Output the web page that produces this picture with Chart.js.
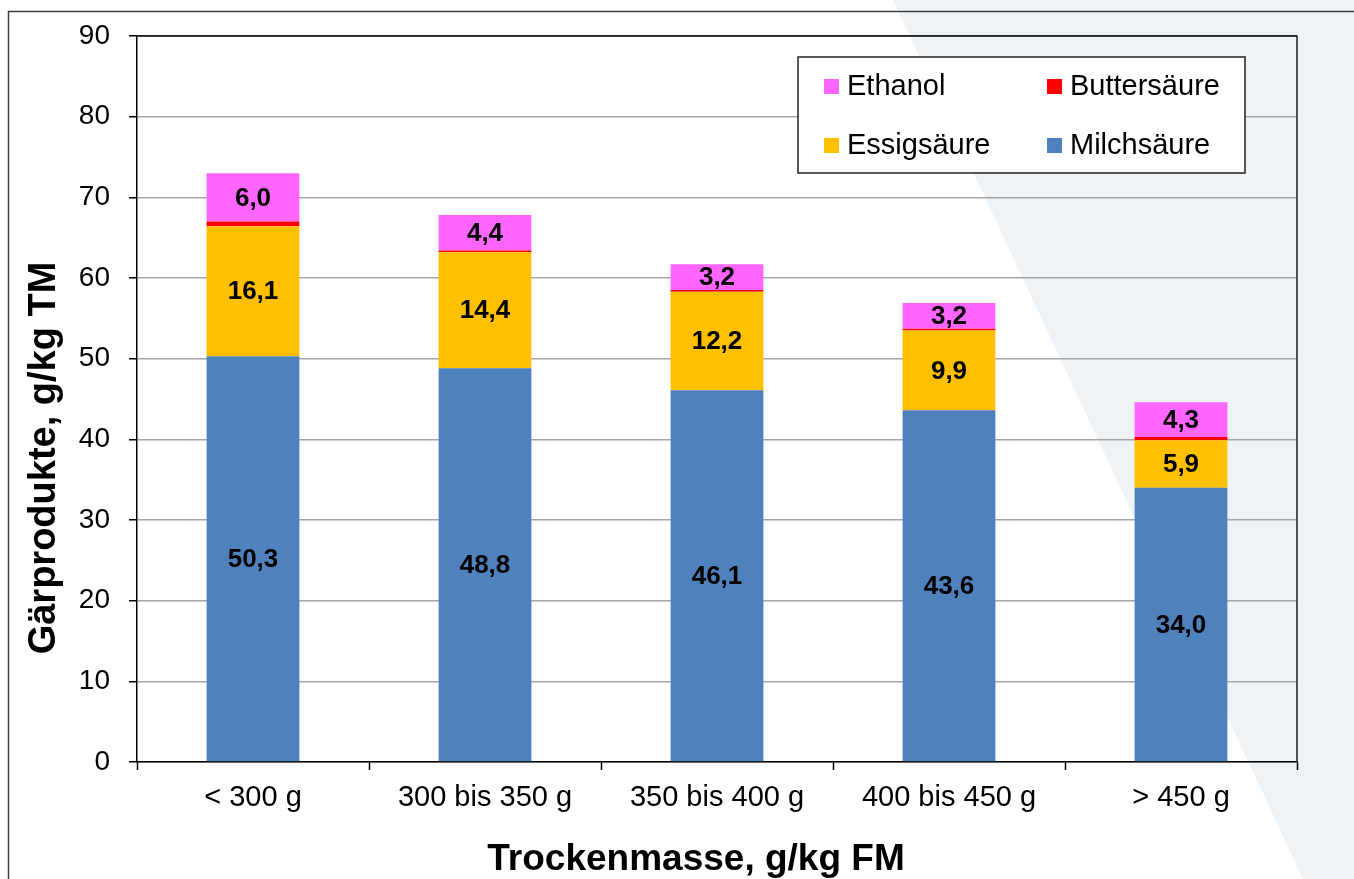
<!DOCTYPE html>
<html>
<head>
<meta charset="utf-8">
<script src="https://cdn.jsdelivr.net/npm/chart.js@4"></script>
<style>
html, body { margin: 0; padding: 0; background: #fff; }
</style>
</head>
<body>
<canvas id="gaerprodukteChart" width="1354" height="879"></canvas>
<script>
var trockenmasseKlassen = ["< 300 g", "300 bis 350 g", "350 bis 400 g", "400 bis 450 g", "> 450 g"];

var milchsaeure = [50.3, 48.8, 46.1, 43.6, 34.0];
var essigsaeure = [16.1, 14.4, 12.2, 9.9, 5.9];
var buttersaeure = [0.6, 0.2, 0.2, 0.2, 0.4];
var ethanol = [6.0, 4.4, 3.2, 3.2, 4.3];

var yAchseMax = 90;
var yAchseSchritt = 10;

var xTitel = "Trockenmasse, g/kg FM";
var yTitel = "Gärprodukte, g/kg TM";

const FONT = "'Liberation Sans', Arial, sans-serif";

// Reihenfolge in der Legende (zwei Spalten, zwei Zeilen)
var legendeEintraege = [
    { text: "Ethanol", color: "#FF66FF" },
    { text: "Buttersäure", color: "#FF0000" },
    { text: "Essigsäure", color: "#FFC000" },
    { text: "Milchsäure", color: "#4F81BD" }
];

function formatKomma(v) {
    return v.toFixed(1).replace(".", ",");
}

// Hintergrund mit der hellen Schraege und dem Rahmen
const hintergrundPlugin = {
    id: 'hintergrund',
    beforeDraw: function(chart) {
        var ctx = chart.ctx;
        var w = chart.width, h = chart.height;
        ctx.save();
        ctx.fillStyle = '#ffffff';
        ctx.fillRect(0, 0, w, h);
        ctx.fillStyle = '#EEF3F7';
        ctx.beginPath();
        ctx.moveTo(893, 0);
        ctx.lineTo(w, 0);
        ctx.lineTo(w, h);
        ctx.lineTo(1303, h);
        ctx.closePath();
        ctx.fill();
        ctx.strokeStyle = '#404040';
        ctx.lineWidth = 1.5;
        ctx.beginPath();
        ctx.moveTo(8.5, h);
        ctx.lineTo(8.5, 11.5);
        ctx.lineTo(w, 11.5);
        ctx.stroke();
        ctx.restore();
    }
};

// Werte in die Balken schreiben, Rahmen rechts, Achsentitel und Legende
const beschriftungPlugin = {
    id: 'beschriftung',
    afterDatasetsDraw: function(chart) {
        var ctx = chart.ctx;
        var ca = chart.chartArea;
        ctx.save();
        ctx.font = "bold 26px " + FONT;
        ctx.fillStyle = '#000';
        ctx.textAlign = 'center';
        ctx.textBaseline = 'middle';
        chart.data.datasets.forEach(function(ds, i) {
            if (!ds.showLabel) return;
            var meta = chart.getDatasetMeta(i);
            meta.data.forEach(function(bar, j) {
                var mitte = (bar.y + bar.base) / 2;
                ctx.fillText(formatKomma(ds.data[j]), bar.x, mitte + 1);
            });
        });

        ctx.strokeStyle = '#202020';
        ctx.lineWidth = 1.5;
        ctx.beginPath();
        ctx.moveTo(ca.left, ca.top);
        ctx.lineTo(ca.right, ca.top);
        ctx.lineTo(ca.right, ca.bottom);
        ctx.stroke();

        // Achsentitel
        ctx.fillStyle = '#000';
        ctx.font = "bold 37px " + FONT;
        ctx.fillText(xTitel, ca.left + 559, ca.bottom + 98);
        ctx.save();
        ctx.translate(45, ca.top + 422);
        ctx.rotate(-Math.PI / 2);
        ctx.font = "bold 38px " + FONT;
        ctx.fillText(yTitel, 0, 0);
        ctx.restore();

        // Legende
        var bx = ca.left + 661, by = ca.top + 21, bw = 447, bh = 116;
        ctx.fillStyle = '#ffffff';
        ctx.fillRect(bx, by, bw, bh);
        ctx.strokeStyle = '#202020';
        ctx.lineWidth = 1.5;
        ctx.strokeRect(bx, by, bw, bh);
        ctx.font = "29px " + FONT;
        ctx.textAlign = 'left';
        legendeEintraege.forEach(function(e, k) {
            var spalte = k % 2, zeile = Math.floor(k / 2);
            var x = bx + 26 + spalte * 223;
            var y = by + 29 + zeile * 59;
            ctx.fillStyle = e.color;
            ctx.fillRect(x, y - 7, 15, 15);
            ctx.fillStyle = '#000';
            ctx.fillText(e.text, x + 23, y + 1);
        });
        ctx.restore();
    }
};

var ctxGaer = document.getElementById("gaerprodukteChart").getContext('2d');

var gaerChart = new Chart(ctxGaer, {
    type: 'bar',
    data: {
        labels: trockenmasseKlassen,
        datasets: [
            { label: "Milchsäure", data: milchsaeure, backgroundColor: "#4F81BD", showLabel: true },
            { label: "Essigsäure", data: essigsaeure, backgroundColor: "#FFC000", showLabel: true },
            { label: "Buttersäure", data: buttersaeure, backgroundColor: "#FF0000", showLabel: false },
            { label: "Ethanol", data: ethanol, backgroundColor: "#FF66FF", showLabel: true }
        ]
    },
    options: {
        responsive: false,
        animation: false,
        layout: {
            padding: { left: 0, right: 57, top: 36, bottom: 0 }
        },
        datasets: {
            bar: { barPercentage: 0.4, categoryPercentage: 1.0, borderWidth: 0 }
        },
        plugins: {
            legend: { display: false },
            tooltip: { enabled: false }
        },
        scales: {
            x: {
                stacked: true,
                afterFit: function(scale) { scale.height = 117; },
                grid: {
                    offset: true,
                    drawOnChartArea: false,
                    drawTicks: true,
                    tickLength: 8,
                    tickColor: '#000',
                    tickWidth: 1.5
                },
                border: { color: '#000', width: 1.5 },
                ticks: {
                    color: '#000',
                    font: { family: FONT, size: 29 },
                    padding: 11,
                    maxRotation: 0
                }
            },
            y: {
                stacked: true,
                min: 0,
                max: yAchseMax,
                afterFit: function(scale) { scale.width = 137; },
                grid: {
                    color: function(c) { return c.tick && c.tick.value === yAchseMax ? '#202020' : '#A6A6A6'; },
                    lineWidth: 1.5,
                    tickLength: 8,
                    tickColor: '#000',
                    tickWidth: 1.5
                },
                border: { color: '#000', width: 1.5 },
                ticks: {
                    stepSize: yAchseSchritt,
                    color: '#000',
                    font: { family: FONT, size: 28 },
                    padding: 19
                }
            }
        }
    },
    plugins: [hintergrundPlugin, beschriftungPlugin]
});
</script>
</body>
</html>
